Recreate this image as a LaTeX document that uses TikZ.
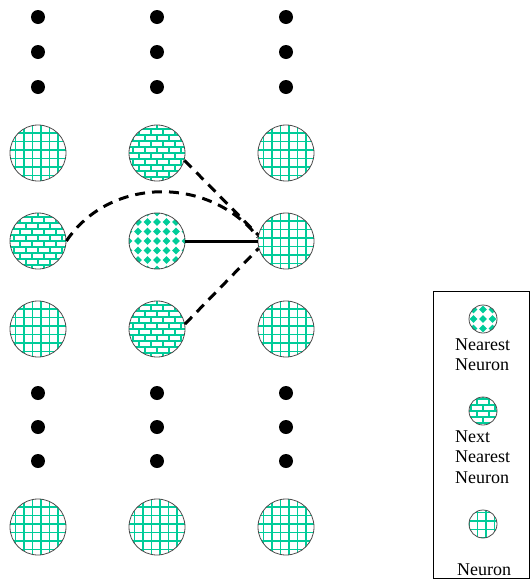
\documentclass[tikz,border=0pt]{standalone}
\usepackage{fontspec}
\setmainfont{Liberation Serif}
\usepackage{tikz}
\definecolor{neurgreen}{RGB}{0,204,153}

\begin{document}
\begin{tikzpicture}[x=1pt,y=-1pt,
  neuron/.style={circle, draw=black!70, line width=0.8pt, minimum size=56pt, inner sep=0pt},
  tile/.style={neurgreen, line width=1.1pt, shift={(path picture bounding box.center)}},
  plain/.style={neuron, path picture={
    \foreach \i in {-3,...,3} {
      \draw[tile] (\i*8.5pt+3pt,-30pt) -- (\i*8.5pt+3pt,30pt);
      \draw[tile] (-30pt,\i*8.5pt+3pt) -- (30pt,\i*8.5pt+3pt);
    }}},
  nextnear/.style={neuron, path picture={
    \foreach \j [evaluate=\j as \off using {mod(\j+10,2)*6}] in {-5,...,4} {
      \draw[tile] (-30pt,\j*6pt) -- (30pt,\j*6pt);
      \foreach \k in {-3,...,3}
        \draw[tile] (\k*12pt+\off pt,\j*6pt) -- (\k*12pt+\off pt,\j*6pt+6pt);
    }}},
  nearest/.style={neuron, path picture={
    \foreach \i in {-3,...,3}
      \foreach \j in {-3,...,3}
        \fill[tile] (\i*9.5pt+3.8pt,\j*9.5pt) -- (\i*9.5pt,\j*9.5pt+3.8pt)
          -- (\i*9.5pt-3.8pt,\j*9.5pt) -- (\i*9.5pt,\j*9.5pt-3.8pt) -- cycle;
    }},
  small/.style={minimum size=28pt},
  link/.style={line width=3pt},
  dashlink/.style={link, dash pattern=on 10pt off 7pt},
  legtext/.style={anchor=base west, inner sep=0pt, font=\fontsize{18}{20}\selectfont}]
\useasboundingbox (0,0) rectangle (530,579);

\foreach \x in {38,157,286}
  \foreach \y in {17,52,87,393,427,461}
    \fill (\x,\y) circle (7pt);

\node[plain] (a1) at (38,153) {};
\node[nextnear] (b1) at (157,153) {};
\node[plain] (c1) at (286,153) {};
\node[nextnear] (a2) at (38,241) {};
\node[nearest] (b2) at (157,241) {};
\node[plain] (c2) at (286,241) {};
\node[plain] (a3) at (38,329) {};
\node[nextnear] (b3) at (157,329) {};
\node[plain] (c3) at (286,329) {};
\foreach \x/\n in {38/a,157/b,286/c}
  \node[plain] (\n4) at (\x,527) {};

\draw[link] (b2.east) -- (c2.west);
\draw[dashlink] (b1.-15) -- (c2.168);
\draw[dashlink] (a2.east) .. controls (110,176) and (210,176) .. (c2.172);
\draw[dashlink] (b3.10) -- (c2.195);

\draw[line width=0.8pt] (433.5,291.5) rectangle (529.5,578.5);
\node[nearest, small] (k1) at (483,319) {};
\node[legtext] (k1a) at (455,350) {Nearest};
\node[legtext] (k1b) at (455,370) {Neuron};
\node[nextnear, small] (k2) at (483,411) {};
\node[legtext] (k2a) at (455,442) {Next};
\node[legtext] (k2b) at (455,462) {Nearest};
\node[legtext] (k2c) at (455,483) {Neuron};
\node[plain, small] (k3) at (483,524) {};
\node[legtext] (k3a) at (457,575) {Neuron};
\end{tikzpicture}
\end{document}
